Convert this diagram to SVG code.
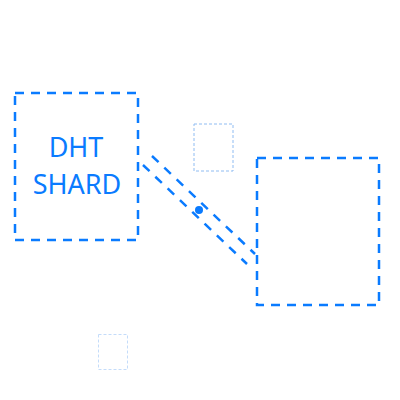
<svg xmlns="http://www.w3.org/2000/svg" width="400" height="400" viewBox="0 0 400 400">
<style>
.n{fill:none;stroke:#0a7bff;stroke-width:2.5;stroke-dasharray:9 7}
.c{fill:none;stroke:#0a7bff;stroke-width:2.5;stroke-dasharray:9 8}
.t{font-family:"Noto Sans","Open Sans",sans-serif;font-size:27px;fill:#0a7bff;text-anchor:middle}
</style>
<rect width="400" height="400" fill="#fff"/>
<g id="ghost1"><rect x="194" y="124" width="39" height="47" fill="none" stroke="#8fbcf2" stroke-width="1" stroke-dasharray="3 2"/></g>
<g id="ghost2"><rect x="98.5" y="334.5" width="29" height="35" fill="none" stroke="#c4dcfa" stroke-width="1" stroke-dasharray="3 2"/></g>
<g id="shard"><rect class="n" x="15" y="93" width="123" height="147"/>
<text class="t" x="76" y="157">DHT</text>
<text class="t" x="77" y="194">SHARD</text></g>
<g id="peer"><rect class="n" x="257" y="158" width="122" height="147"/></g>
<g id="connectors">
<line class="c" x1="152" y1="156" x2="255" y2="254"/>
<line class="c" x1="143" y1="165" x2="247" y2="264"/>
<circle cx="199" cy="210" r="4" fill="#0a7bff"/>
</g>
</svg>
